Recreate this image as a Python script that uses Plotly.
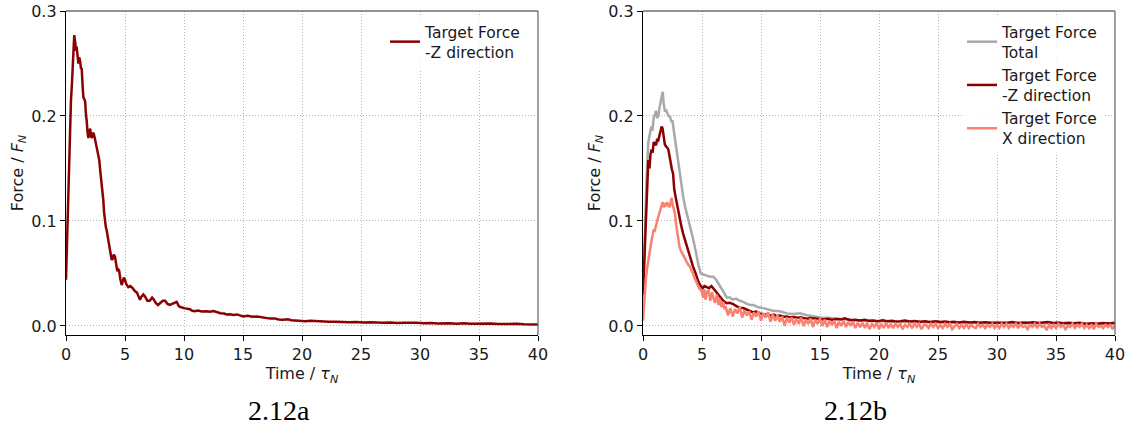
import plotly.graph_objects as go

# ---------------- data ----------------
t_a = [0.0, 0.1, 0.2, 0.28, 0.35, 0.42, 0.5, 0.57, 0.63, 0.7, 0.78, 0.85, 0.9, 0.97,
       1.05, 1.12, 1.2, 1.27, 1.33, 1.4, 1.47, 1.55, 1.62, 1.7, 1.75, 1.82, 1.9, 1.97,
       2.05, 2.12, 2.2, 2.28, 2.35, 2.42, 2.5, 2.6, 2.7, 2.82, 2.9, 3.0, 3.08, 3.16,
       3.23, 3.3, 3.38, 3.45, 3.55, 3.64, 3.72, 3.8, 3.87, 3.95, 4.05, 4.15, 4.25, 4.35,
       4.42, 4.5, 4.6, 4.72, 4.8, 4.9, 5.0, 5.1, 5.28, 5.45, 5.65, 5.85, 6.0, 6.15,
       6.27, 6.4, 6.55, 6.7, 6.9, 7.1, 7.3, 7.45, 7.6, 7.8, 8.0, 8.2, 8.4, 8.6, 8.8,
       9.0, 9.2, 9.38, 9.55, 9.7, 10.0, 10.3, 10.5, 10.7, 10.9, 11.2, 11.5, 11.9, 12.2,
       12.5, 12.8, 13.1, 13.4, 13.6, 13.9, 14.2, 14.5, 14.8, 15.0, 15.4, 15.8, 16.2,
       16.6, 17.0, 17.3, 17.7, 18.0, 18.4, 18.8, 19.1, 19.5, 19.9, 20.3, 20.7, 21.2,
       21.8, 22.3, 22.9, 23.4, 24.0, 24.6, 25.2, 25.8, 26.4, 26.9, 27.5, 28.1, 28.7,
       29.2, 29.7, 30.3, 30.9, 31.5, 32.0, 32.5, 33.1, 33.7, 34.3, 34.8, 35.4, 36.0,
       36.6, 37.2, 37.7, 38.2, 38.8, 39.4, 40.0]
fz_a = [0.044, 0.09, 0.13, 0.146, 0.19, 0.215, 0.23, 0.244, 0.262, 0.277, 0.27, 0.262,
        0.266, 0.255, 0.25, 0.256, 0.252, 0.245, 0.246, 0.23, 0.218, 0.216, 0.214, 0.2,
        0.196, 0.185, 0.179, 0.184, 0.188, 0.181, 0.179, 0.184, 0.183, 0.18, 0.175,
        0.171, 0.164, 0.158, 0.148, 0.139, 0.13, 0.12, 0.108, 0.099, 0.094, 0.091,
        0.084, 0.079, 0.072, 0.066, 0.063, 0.064, 0.068, 0.066, 0.057, 0.052, 0.054,
        0.053, 0.045, 0.039, 0.042, 0.046, 0.044, 0.04, 0.037, 0.038, 0.036, 0.033,
        0.032, 0.028, 0.025, 0.028, 0.03, 0.028, 0.024, 0.024, 0.027, 0.025, 0.022,
        0.02, 0.022, 0.024, 0.024, 0.021, 0.02, 0.021, 0.022, 0.023, 0.019, 0.018,
        0.017, 0.0165, 0.016, 0.0145, 0.014, 0.0148, 0.0138, 0.014, 0.0135, 0.0142,
        0.013, 0.0122, 0.0118, 0.011, 0.0112, 0.0105, 0.011, 0.0095, 0.009, 0.0098,
        0.0088, 0.009, 0.0082, 0.0076, 0.007, 0.0072, 0.0062, 0.006, 0.0064, 0.0055,
        0.005, 0.0052, 0.0046, 0.0049, 0.0045, 0.0047, 0.0041, 0.004, 0.0036, 0.0035,
        0.0038, 0.0032, 0.0036, 0.003, 0.0031, 0.0034, 0.0028, 0.0031, 0.0027, 0.003,
        0.0026, 0.0029, 0.0024, 0.0027, 0.0025, 0.0022, 0.0026, 0.0021, 0.0023, 0.002,
        0.0024, 0.0019, 0.0021, 0.0018, 0.002, 0.0016, 0.0019, 0.0015]

t_tot = [0.0, 0.08, 0.17, 0.3, 0.45, 0.59, 0.7, 0.8, 0.9, 1.0, 1.1, 1.2, 1.3, 1.4, 1.5,
         1.6, 1.67, 1.75, 1.86, 1.95, 2.05, 2.15, 2.3, 2.4, 2.5, 2.6, 2.7, 2.85, 3.0,
         3.15, 3.28, 3.42, 3.56, 3.7, 3.84, 4.0, 4.2, 4.38, 4.55, 4.7, 4.89, 5.1, 5.4,
         5.7, 5.96, 6.2, 6.38, 6.6, 6.8, 7.1, 7.37, 7.6, 7.9, 8.2, 8.5, 8.8, 9.1, 9.35,
         9.7, 10.2, 10.6, 11.0, 11.6, 12.2, 12.7, 13.3, 13.8, 14.4, 15.0, 15.6, 16.3,
         17.0, 17.8, 18.5, 19.3, 20.0, 21.0, 22.0, 23.0, 24.0, 25.0, 26.0, 27.0, 28.0,
         29.0, 30.0, 31.0, 32.0, 33.0, 34.0, 35.0, 36.0, 37.0, 38.0, 39.0, 40.0]
f_tot = [0.025, 0.06, 0.088, 0.14, 0.175, 0.184, 0.19, 0.186, 0.198, 0.201, 0.205, 0.198,
         0.2, 0.208, 0.214, 0.218, 0.223, 0.212, 0.204, 0.206, 0.203, 0.2, 0.199, 0.195,
         0.195, 0.187, 0.177, 0.168, 0.158, 0.145, 0.133, 0.122, 0.114, 0.108, 0.101,
         0.093, 0.085, 0.076, 0.066, 0.058, 0.05, 0.049, 0.048, 0.047, 0.047, 0.044,
         0.041, 0.037, 0.033, 0.027, 0.027, 0.025, 0.026, 0.024, 0.023, 0.021, 0.02,
         0.02, 0.018, 0.017, 0.016, 0.0145, 0.014, 0.012, 0.0115, 0.012, 0.0105, 0.009,
         0.008, 0.0078, 0.007, 0.0065, 0.0058, 0.005, 0.0048, 0.0045, 0.004, 0.0042,
         0.0036, 0.0035, 0.0032, 0.0034, 0.003, 0.0028, 0.003, 0.0026, 0.0027, 0.0025,
         0.0028, 0.0024, 0.0025, 0.0022, 0.0023, 0.002, 0.0022, 0.002]

t_z = [0.0, 0.08, 0.15, 0.25, 0.35, 0.45, 0.55, 0.63, 0.73, 0.82, 0.9, 1.02, 1.1, 1.2,
       1.3, 1.4, 1.5, 1.58, 1.66, 1.75, 1.85, 1.95, 2.05, 2.15, 2.25, 2.35, 2.45, 2.55,
       2.65, 2.78, 2.9, 3.0, 3.13, 3.25, 3.4, 3.55, 3.7, 3.83, 3.96, 4.1, 4.24, 4.4,
       4.55, 4.7, 4.89, 5.05, 5.2, 5.4, 5.6, 5.8, 5.95, 6.1, 6.3, 6.5, 6.8, 7.1, 7.35,
       7.6, 7.85, 8.05, 8.2, 8.5, 8.8, 9.0, 9.35, 9.6, 9.9, 10.2, 10.5, 10.8, 11.1,
       11.3, 11.6, 11.9, 12.2, 12.5, 12.8, 13.1, 13.4, 13.6, 13.9, 14.2, 14.6, 15.0,
       15.3, 15.7, 16.0, 16.4, 16.8, 17.1, 17.3, 17.6, 18.0, 18.4, 18.8, 19.1, 19.5,
       19.9, 20.3, 20.7, 21.1, 21.4, 21.8, 22.2, 22.6, 23.0, 23.5, 23.9, 24.3, 24.8,
       25.2, 25.6, 26.0, 26.3, 26.8, 27.2, 27.7, 28.1, 28.5, 29.0, 29.4, 30.0, 30.5,
       30.9, 31.3, 31.8, 32.2, 32.6, 33.1, 33.5, 33.9, 34.3, 34.8, 35.2, 35.6, 36.1,
       36.5, 37.0, 37.6, 38.0, 38.5, 39.0, 39.5, 40.0]
f_z = [0.03, 0.05, 0.07, 0.1, 0.125, 0.158, 0.15, 0.163, 0.168, 0.165, 0.175, 0.174,
       0.172, 0.178, 0.177, 0.182, 0.186, 0.19, 0.188, 0.178, 0.173, 0.171, 0.17, 0.168,
       0.16, 0.152, 0.149, 0.145, 0.13, 0.122, 0.114, 0.108, 0.101, 0.095, 0.088, 0.082,
       0.0755, 0.071, 0.066, 0.061, 0.0565, 0.052, 0.047, 0.042, 0.038, 0.036, 0.038,
       0.037, 0.036, 0.038, 0.036, 0.034, 0.031, 0.028, 0.024, 0.0216, 0.022, 0.021,
       0.019, 0.018, 0.017, 0.017, 0.015, 0.0145, 0.013, 0.0137, 0.012, 0.011, 0.0105,
       0.01, 0.0108, 0.0095, 0.01, 0.0088, 0.009, 0.0082, 0.0085, 0.0078, 0.0082,
       0.0075, 0.007, 0.0076, 0.007, 0.007, 0.0062, 0.0068, 0.0058, 0.0066, 0.0062,
       0.0072, 0.0064, 0.0055, 0.006, 0.0052, 0.0058, 0.005, 0.0052, 0.0046, 0.0054,
       0.0045, 0.005, 0.0042, 0.0046, 0.0052, 0.0042, 0.0047, 0.004, 0.0045, 0.0038,
       0.0044, 0.0037, 0.0042, 0.0035, 0.004, 0.0034, 0.0041, 0.0033, 0.0037, 0.0031,
       0.0036, 0.003, 0.003, 0.0036, 0.003, 0.0038, 0.0029, 0.0034, 0.003, 0.0035,
       0.0028, 0.0034, 0.0038, 0.0029, 0.0033, 0.0026, 0.0031, 0.0025, 0.003, 0.002,
       0.0027, 0.0022, 0.0028, 0.0023, 0.003]

t_x = [0.0, 0.08, 0.17, 0.25, 0.35, 0.45, 0.55, 0.63, 0.73, 0.82, 0.9, 1.0, 1.1, 1.2,
       1.3, 1.4, 1.5, 1.58, 1.66, 1.75, 1.86, 1.95, 2.05, 2.15, 2.25, 2.35, 2.43, 2.5,
       2.6, 2.71, 2.8, 2.9, 3.0, 3.1, 3.2, 3.28, 3.4, 3.56, 3.7, 3.85, 3.98, 4.1, 4.24,
       4.4, 4.6, 4.75, 4.97, 5.1, 5.2, 5.3, 5.4, 5.55, 5.7, 5.85, 5.96, 6.1, 6.25, 6.4,
       6.5, 6.65, 6.8, 6.9,
       7.0, 7.2, 7.4, 7.6, 7.8, 8.0, 8.2, 8.4, 8.6, 8.8,
       9.0, 9.2, 9.4, 9.6, 9.8, 10.0, 10.2, 10.4, 10.6, 10.8,
       11.0, 11.2, 11.4, 11.6, 11.8, 12.0, 12.2, 12.4, 12.6, 12.8,
       13.0, 13.2, 13.4, 13.6, 13.8, 14.0, 14.2, 14.4, 14.6, 14.8,
       15.0, 15.2, 15.4, 15.6, 15.8, 16.0, 16.2, 16.4, 16.6, 16.8,
       17.0, 17.2, 17.4, 17.6, 17.8, 18.0, 18.2, 18.4, 18.6, 18.8,
       19.0, 19.2, 19.4, 19.6, 19.8, 20.0, 20.2, 20.4, 20.6, 20.8,
       21.0, 21.2, 21.4, 21.6, 21.8, 22.0, 22.2, 22.4, 22.6, 22.8,
       23.0, 23.2, 23.4, 23.6, 23.8, 24.0, 24.2, 24.4, 24.6, 24.8,
       25.0, 25.2, 25.4, 25.6, 25.8, 26.0, 26.2, 26.4, 26.6, 26.8,
       27.0, 27.2, 27.4, 27.6, 27.8, 28.0, 28.2, 28.4, 28.6, 28.8,
       29.0, 29.2, 29.4, 29.6, 29.8, 30.0, 30.2, 30.4, 30.6, 30.8,
       31.0, 31.2, 31.4, 31.6, 31.8, 32.0, 32.2, 32.4, 32.6, 32.8,
       33.0, 33.2, 33.4, 33.6, 33.8, 34.0, 34.2, 34.4, 34.6, 34.8,
       35.0, 35.2, 35.4, 35.6, 35.8, 36.0, 36.2, 36.4, 36.6, 36.8,
       37.0, 37.2, 37.4, 37.6, 37.8, 38.0, 38.2, 38.4, 38.6, 38.8,
       39.0, 39.2, 39.4, 39.6, 39.8, 40.0]
f_x = [0.005, 0.02, 0.034, 0.045, 0.055, 0.063, 0.07, 0.078, 0.082, 0.087, 0.092, 0.091,
       0.097, 0.1, 0.104, 0.108, 0.112, 0.114, 0.118, 0.113, 0.117, 0.114, 0.117, 0.116,
       0.113, 0.118, 0.122, 0.116, 0.112, 0.107, 0.097, 0.088, 0.079, 0.075, 0.072,
       0.07, 0.067, 0.063, 0.061, 0.058, 0.0565, 0.053, 0.05, 0.045, 0.039, 0.036,
       0.033, 0.027, 0.035, 0.025, 0.032, 0.034, 0.024, 0.032, 0.027, 0.022, 0.030,
       0.020, 0.026, 0.018, 0.023, 0.016,
       0.019, 0.010, 0.017, 0.009, 0.016, 0.012, 0.018, 0.008, 0.015, 0.010,
       0.014, 0.006, 0.013, 0.009, 0.014, 0.005, 0.012, 0.008, 0.013, 0.004,
       0.011, 0.005, 0.010, 0.004, 0.009, 0.000, 0.008, 0.003, 0.008, 0.001,
       0.007, 0.002, 0.008, 0.000, 0.006, 0.002, 0.007, -0.001, 0.006, 0.002,
       0.007, 0.000, 0.006, -0.001, 0.005, 0.001, 0.005, -0.002, 0.004, 0.000,
       0.005, -0.001, 0.004, 0.000, 0.004, -0.002, 0.003, -0.001, 0.003, -0.002,
       0.003, -0.003, 0.002, -0.001, 0.003, -0.003, 0.002, -0.002, 0.003, -0.002,
       0.002, -0.002, 0.002, -0.001, 0.002, -0.003, 0.001, -0.001, 0.002, -0.002,
       0.002, -0.001, 0.002, -0.003, 0.001, 0.001, -0.002, 0.002, -0.001, 0.002,
       -0.002, 0.001, -0.002, 0.002, -0.001, 0.002, -0.003, 0.000, 0.002, -0.002,
       0.001, -0.002, 0.002, -0.002, 0.001, -0.001, -0.002, 0.002, -0.001, 0.001,
       -0.002, 0.001, -0.001, 0.002, -0.002, 0.001, -0.002, 0.002, -0.001, 0.002,
       -0.002, 0.001, -0.001, 0.002, -0.002, 0.002, -0.001, 0.000, -0.003, 0.001,
       -0.001, 0.002, -0.002, 0.002, -0.001, 0.000, -0.004, 0.001, -0.002, 0.001,
       -0.002, 0.002, -0.001, 0.001, -0.003, 0.000, -0.001, 0.002, -0.002, 0.001,
       -0.001, 0.002, -0.002, 0.001, -0.002, 0.001, -0.003, 0.002, -0.001, 0.000,
       -0.002, 0.001, -0.001, 0.001, -0.003, 0.001]

x_ticks = [0, 5, 10, 15, 20, 25, 30, 35, 40]
y_ticks = [0.0, 0.1, 0.2, 0.3]
captions = ["2.12a", "2.12b"]

# ---------------- figure ----------------
DARKRED = "#8B0000"
GRAY = "#A9A9A9"
SALMON = "#FA8072"
FONT = "DejaVu Sans"
LW = 2.5

fig = go.Figure()
fig.add_trace(go.Scatter(x=t_a, y=fz_a, mode="lines", name="Target Force<br>-Z direction",
                         line=dict(color=DARKRED, width=LW), xaxis="x", yaxis="y",
                         legend="legend", showlegend=True))
fig.add_trace(go.Scatter(x=t_tot, y=f_tot, mode="lines", name="Target Force<br>Total",
                         line=dict(color=GRAY, width=LW), xaxis="x2", yaxis="y2",
                         legend="legend2", showlegend=True))
fig.add_trace(go.Scatter(x=t_z, y=f_z, mode="lines", name="Target Force<br>-Z direction",
                         line=dict(color=DARKRED, width=LW), xaxis="x2", yaxis="y2",
                         legend="legend2", showlegend=True))
fig.add_trace(go.Scatter(x=t_x, y=f_x, mode="lines", name="Target Force<br>X direction",
                         line=dict(color=SALMON, width=LW), xaxis="x2", yaxis="y2",
                         legend="legend2", showlegend=True))

W, H = 1131, 429
ML, MR, MT, MB = 66, 16, 11, 94
pw = W - ML - MR
ph = H - MT - MB
d1 = [0, (538 - ML) / pw]
d2 = [(643 - ML) / pw, 1]

GRIDC = "#b4b4b4"
GRIDDASH = "1px,2px"

def xax(domain, anchor):
    return dict(domain=domain, anchor=anchor, range=[0, 40], tickvals=x_ticks,
                showgrid=True, gridcolor=GRIDC, griddash=GRIDDASH, gridwidth=1,
                showline=True, linecolor="black", linewidth=1.3, mirror=False,
                ticks="outside", ticklen=5, tickwidth=1.2, tickcolor="black",
                zeroline=False, tickfont=dict(family=FONT, size=16, color="#1a1a1a"),
                title=dict(text="Time / <i>τ</i><sub><i>N</i></sub>",
                           font=dict(family=FONT, size=16, color="#1a1a1a"), standoff=0))

def yax(anchor):
    return dict(domain=[0, 1], anchor=anchor, range=[-0.0086, 0.3], tickvals=y_ticks,
                tickformat=".1f",
                showgrid=True, gridcolor=GRIDC, griddash=GRIDDASH, gridwidth=1,
                showline=True, linecolor="black", linewidth=1.3, mirror=False,
                ticks="outside", ticklen=5, tickwidth=1.2, tickcolor="black",
                zeroline=False, tickfont=dict(family=FONT, size=16, color="#1a1a1a"),
                title=dict(text="Force / <i>F</i><sub><i>N</i></sub>",
                           font=dict(family=FONT, size=16, color="#1a1a1a"), standoff=3))

shapes = []
for xr, yr in (("x domain", "y domain"), ("x2 domain", "y2 domain")):
    shapes.append(dict(type="line", xref=xr, yref=yr, x0=0, x1=1, y0=1, y1=1,
                       line=dict(color="#6e6e6e", width=1.3), layer="above"))
    shapes.append(dict(type="line", xref=xr, yref=yr, x0=1, x1=1, y0=0, y1=1,
                       line=dict(color="#6e6e6e", width=1.3), layer="above"))

legend_common = dict(xanchor="left", yanchor="top", bgcolor="rgba(255,255,255,0.85)",
                     borderwidth=0, tracegroupgap=0,
                     font=dict(family=FONT, size=15.5, color="#1a1a1a"))

fig.update_layout(
    width=W, height=H, margin=dict(l=ML, r=MR, t=MT, b=MB, autoexpand=False),
    paper_bgcolor="white", plot_bgcolor="white", showlegend=True,
    xaxis=xax(d1, "y"), yaxis=yax("x"),
    xaxis2=xax(d2, "y2"), yaxis2=yax("x2"),
    shapes=shapes,
    legend=dict(x=(385 - ML) / pw, y=1 - 4 / ph, **legend_common),
    legend2=dict(x=(962 - ML) / pw, y=1 - 4 / ph, **legend_common),
    annotations=[
        dict(text=captions[0], xref="paper", yref="paper", x=(279 - ML) / pw,
             y=-(410 - (H - MB)) / ph, xanchor="center", yanchor="middle",
             showarrow=False, font=dict(family="Liberation Serif", size=28, color="black")),
        dict(text=captions[1], xref="paper", yref="paper", x=(855 - ML) / pw,
             y=-(410 - (H - MB)) / ph, xanchor="center", yanchor="middle",
             showarrow=False, font=dict(family="Liberation Serif", size=28, color="black")),
    ],
)

fig.write_html("out.html")
